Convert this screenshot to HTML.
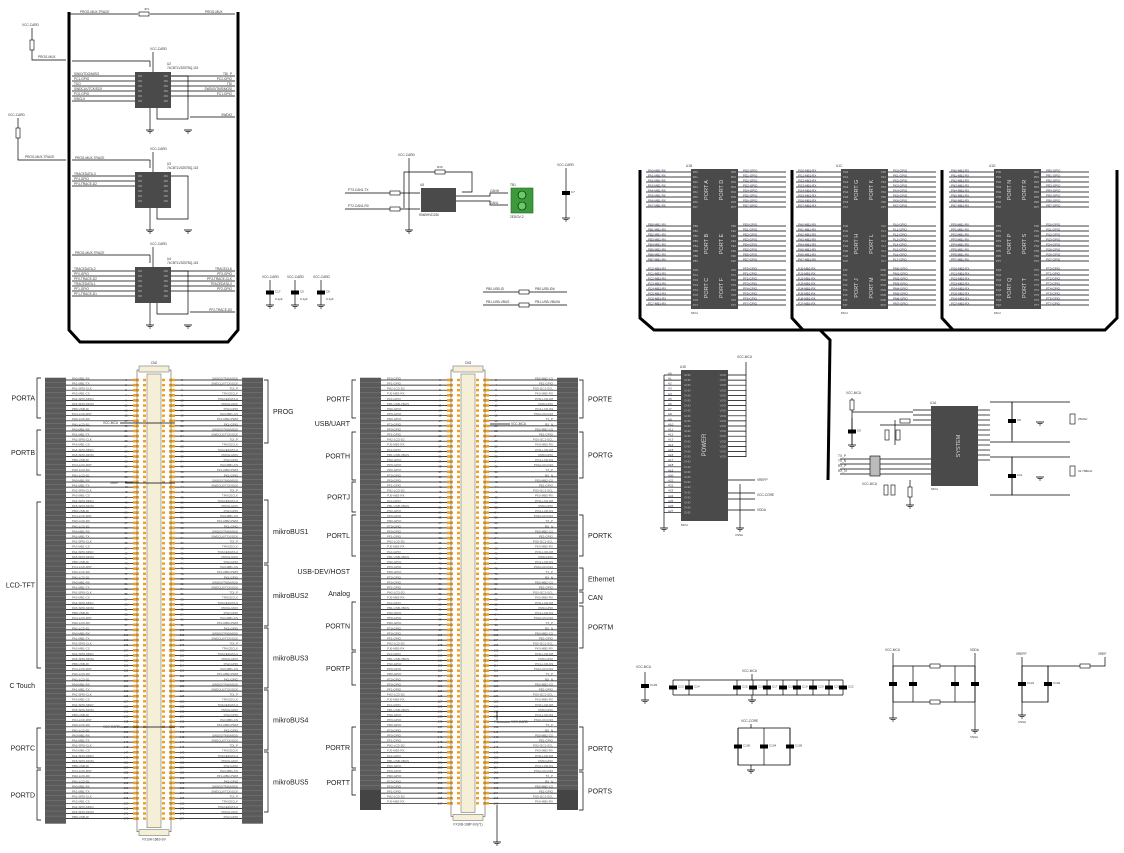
<!DOCTYPE html>
<html><head><meta charset="utf-8"><style>
html,body{margin:0;padding:0;background:#fff;width:1124px;height:853px;overflow:hidden}
svg{display:block}
text{font-family:"Liberation Sans",sans-serif}
</style></head><body>
<svg id="s" width="1124" height="853" viewBox="0 0 1124 853" xmlns="http://www.w3.org/2000/svg"></svg>
<script>
var s=document.getElementById('s'),h='';
function L(a,b,c,d,w,col){h+='<line x1="'+a+'" y1="'+b+'" x2="'+c+'" y2="'+d+'" stroke="'+(col||'#000')+'" stroke-width="'+(w||0.7)+'"/>';}
function P(pts,w){h+='<polyline points="'+pts+'" fill="none" stroke="#000" stroke-width="'+(w||0.7)+'"/>';}
function R(x,y,w,hh,f,st){h+='<rect x="'+x+'" y="'+y+'" width="'+w+'" height="'+hh+'" fill="'+f+'"'+(st?' stroke="'+st+'" stroke-width="0.6"':'')+'/>';}
function T(x,y,t,sz,an,col){h+='<text x="'+x+'" y="'+y+'" font-size="'+(sz||3.5)+'" fill="'+(col||'#333')+'" text-anchor="'+(an||'start')+'">'+t+'</text>';}
function TV(x,y,t,sz,col){h+='<text x="'+x+'" y="'+y+'" font-size="'+sz+'" fill="'+col+'" text-anchor="middle" transform="rotate(-90 '+x+' '+y+')">'+t+'</text>';}
function G(x,y){L(x-4,y,x+4,y,0.8);L(x-2.5,y+1.5,x+2.5,y+1.5,0.7);L(x-1,y+3,x+1,y+3,0.6);}
function CAP(x,y1,y2,lab){L(x,y1,x,y2);R(x-4,(y1+y2)/2-2,8,4,'#000');if(lab)T(x+5,(y1+y2)/2,lab,3);}
function RES(x,y,horiz){if(horiz)R(x-5,y-2,10,4,'#fff','#000');else R(x-2,y-5,4,10,'#fff','#000');}

// ===== Top-left frame =====
P('69,12 69,330 80,342 228,342 238,330 238,12',3);
L(69,14,138,14);L(150,14,235,14);RES(144,14,1);T(80,13,'PROG-MUX-TRACE',3.2);T(205,13,'PROG-MUX',3.2);T(144,10,'JP1',3);
L(32,28,32,40);RES(32,45);P('32,50 32,60 66,60');T(22,26,'VCC-CARD',3.2);T(38,58,'PROG-MUX',3.2);
L(18,118,18,128);RES(18,133);P('18,138 18,160 66,160');T(8,116,'VCC-CARD',3.2);T(25,158,'PROG-MUX-TRACE',3.2);
function ic(y,rowsL,rowsR,name){
 R(135,y,36,36,'#4a4a4a');
 L(153,y-20,153,y);T(150,y-22,'VCC-CARD',3.2);T(167,y-7,name,3.2);T(167,y-3,'74CBTLV3257BQ,115',3.2);
 for(var i=0;i<6;i++){var yy=y+4+i*5;if(rowsL[i]!==null){L(72,yy,135,yy);T(74,yy-1,rowsL[i],3.2);}
  if(rowsR[i]!==null){L(171,yy,235,yy);T(232,yy-1,rowsR[i],3.2,'end');}
  T(138,yy+1,'1B1',2.5,'start','#bbb');T(168,yy+1,'4B2',2.5,'end','#bbb');}
 P('157,'+(y+36)+' 157,'+(y+47)+' 188,'+(y+47)+' 188,'+(y+4)+' 171,'+(y+4));
 L(150,y+36,150,y+58);G(150,y+58);G(188,y+58);
}
L(72,61,150,61);L(150,61,150,67);
ic(72,['SWIO/TDO/MISO','PC1-GPIO','TDO','SWDCLK/TCK/SCK','PC0-GPIO','SWCLK'],['TDI_P','PC2-GPIO','TDI','SWDIO/TMS/MOSI','PC1-GPIO',null],'U2');
L(190,117,235,117);T(232,116,'SWDIO',3.2,'end');
L(72,160,150,160);L(150,160,150,168);T(75,159,'PROG-MUX-TRACE',3.2);
ic(172,['TRACEDATA-3','PF4-GPIO','PF4-TRACE-D2',null,null,null],[null,null,null,null,null,null],'U3');
L(72,255,150,255);L(150,255,150,263);T(75,254,'PROG-MUX-TRACE',3.2);
ic(267,['TRACEDATA-2','PF0-GPIO','PF0-TRACE-D2','TRACEDATA-1','PF1-GPIO','PF1-TRACE-D1'],['TRACECLK','PF3-GPIO','PF3-TRACE-CLK','TRACEDATA-0','PF2-GPIO',null],'U4');
L(190,312,235,312);T(232,311,'PF2-TRACE-D0',3.2,'end');
[[270,'C17'],[295,'C5'],[321,'C6']].forEach(function(c){T(c[0]-8,278,'VCC-CARD',3.2);CAP(c[0],280,305,c[1]);G(c[0],305);T(c[0]+5,300,'0.1µF',3);});
// CAN
T(398,156,'VCC-CARD',3.2);L(409,158,409,230);G(409,230);
P('404,208 404,172 472,172 472,192 462,192');RES(440,172,1);T(437,168,'R30',3);
L(345,193,390,193);RES(395,193,1);L(400,193,420,193);T(348,191,'PT3-CAN1-TX',3.2);
L(345,209,390,209);RES(395,209,1);L(400,209,420,209);T(348,207,'PT2-CAN1-RX',3.2);
R(421,188,35,24,'#4a4a4a');T(420,186,'U5',3.2);T(419,216,'SN65HVD230',3.2);
P('456,196 490,196 490,193 508,193');P('456,201 490,201 490,205 508,205');T(490,192,'CANH',3.2);T(490,204,'CANL',3.2);
R(511,188,22,25,'#3c9a3c','#226622');h+='<circle cx="522" cy="195" r="4" fill="#6c6" stroke="#000" stroke-width="0.6"/><circle cx="522" cy="206" r="4" fill="#6c6" stroke="#000" stroke-width="0.6"/>';
T(510,186,'TB1',3.2);T(510,218,'2EDGV-2',3.2);
T(557,166,'VCC-CARD',3.2);CAP(566,168,218,'C7');G(566,218);
L(483,292,567,292);RES(524,292,1);T(486,290,'PB0-USB-ID',3.2);T(535,290,'PB0-USB-ID#',3.2);
L(483,305,567,305);RES(524,305,1);T(486,303,'PB1-USB-VBUS',3.2);T(535,303,'PB1-USB-VBUS#',3.2);

// ===== Top-right MCU panel =====
P('640,170 640,318 654,330 1105,330 1117,318 1117,170',3);
P('792,170 792,318 803,330',3);P('942,170 942,318 953,330',3);
P('820,330 830,340 828,480',3);
function mcu(x,lab,ports){R(x,169,47,140,'#4a4a4a');T(x-5,167,lab,3.2);T(x,314,'MCU',3);
 var groups=[172,226,270];
 groups.forEach(function(g0,gi){for(var i=0;i<8;i++){var y=g0+i*5;L(x-45,y,x,y);L(x+47,y,x+95,y);
  T(x-43,y-0.6,'P'+ports[gi][0]+i+'-MB1-RX',3,'start','#335');T(x+52,y-0.6,'P'+ports[gi][1]+i+'-GPIO',3,'start','#335');
  T(x+2,y+1,'P'+ports[gi][0]+i,2.6,'start','#ccc');T(x+45,y+1,'P'+ports[gi][1]+i,2.6,'end','#ccc');}
  TV(x+17,g0+18,'PORT '+ports[gi][0],5.5,'#ddd');TV(x+32,g0+18,'PORT '+ports[gi][1],5.5,'#ddd');});
}
mcu(691,'U1B',[['A','D'],['B','E'],['C','F']]);mcu(841,'U1C',[['G','K'],['H','L'],['J','M']]);mcu(994,'U1D',[['N','R'],['P','S'],['Q','T']]);
// Power chip
R(681,370,47,151,'#4a4a4a');T(680,368,'U1E',3.2);T(681,526,'MCU',3);TV(706,445,'POWER',6,'#ddd');
for(var i=0;i<28;i++){var y=375+i*5.1;L(664,y,681,y);T(668,y-0.6,'A'+i,3,'start','#335');T(684,y+1,'GND',3,'start','#bbb');}
L(664,375,664,528);G(664,528);
for(var i=0;i<17;i++){var y=375+i*5.1;L(728,y,746,y);T(726,y+1,'VDD',3,'end','#bbb');}
L(746,362,746,457);T(737,358,'VCC-MCU',3.2);
L(728,480,755,480);T(757,481,'VREFP',3.2);L(728,493,755,493);L(728,499,755,499);T(757,496,'VCC-CORE',3.2);
L(728,510,755,510);T(757,511,'VDDA',3.2);L(740,484,740,528);G(740,528);T(735,536,'VSSA',3);
// system chip
R(931,406,47,80,'#4a4a4a');T(930,404,'U1A',3.2);T(931,490,'MCU',3);TV(960,446,'SYSTEM',5.5,'#ddd');
for(var i=0;i<4;i++){L(913,410+i*5,931,410+i*5);}
for(var i=0;i<4;i++){var y=459+i*5;L(840,y,931,y);}
T(838,457,'TX_P',3.2);T(838,462,'TX_N',3.2);T(838,467,'RX_P',3.2);T(838,472,'RX_N',3.2);
R(870,456,10,20,'#bbb','#000');
for(var i=0;i<11;i++){L(978,410+i*5,990,410+i*5);}
L(852,398,852,445);RES(852,405);CAP(852,418,445,'C9');G(852,445);T(846,394,'VCC-MCU',3.2);L(852,412,913,412);
L(880,425,913,425);RES(905,421,1);L(895,420,895,445);RES(887,435);RES(898,435);
L(910,480,910,505);RES(910,492);G(910,505);RES(886,490);RES(893,490);T(862,485,'VCC-MCU',3.2);
P('990,402 1012,402 1012,442 990,442');CAP(1012,402,440,'C8');P('1012,402 1070,402');P('1012,442 1070,442');
R(1070,414,5,10,'#fff','#000');T(1078,420,'25MHz',3);G(1040,422);
P('990,457 1012,457 1012,495 990,495');CAP(1012,457,495,'C11');P('1012,457 1070,457');P('1012,495 1070,495');
R(1070,466,5,10,'#fff','#000');T(1078,472,'32.768kHz',3);G(1040,477);

// ===== Bottom caps =====
T(636,668,'VCC-MCU',3.2);CAP(645,672,700,'C103');G(645,700);
P('673,680 843,680');P('673,695 843,695');
[673,689,737,753,767,783,797,813,829,843].forEach(function(x,i){CAP(x,680,695,'C'+(13+i));});
T(742,672,'VCC-MCU',3.2);L(752,674,752,680);L(752,695,752,700);G(752,700);
T(741,722,'VCC-CORE',3.2);P('738,728 790,728 790,765 738,765 738,728');L(751,724,751,728);L(751,765,751,770);G(751,770);
CAP(738,728,765,'C100');CAP(764,728,765,'C104');CAP(790,728,765,'C105');
T(885,651,'VCC-MCU',3.2);T(970,651,'VDDA',3.2);L(893,653,893,718);G(893,718);L(975,653,975,730);G(975,730);T(970,738,'VSSA',3);
L(893,666,975,666);L(893,702,975,702);RES(935,666,1);RES(935,702,1);
[893,913,955,975].forEach(function(x){CAP(x,666,702);});
T(1016,655,'VREFP',3.2);T(1098,655,'VREF',3.2);L(1022,657,1022,715);G(1022,715);T(1018,723,'VSSA',3);
P('1022,666 1105,666 1105,657');RES(1085,666,1);CAP(1022,666,702,'C101');CAP(1048,666,702,'C102');P('1022,702 1048,702 1048,666');

// ===== Connectors =====
function conn(gl,gr,px,y0,n,bl,name,labL,labR){
 R(gl,y0-2,21,n*5.1+2,'#5a5a5a');R(gr[0],y0-2,21,n*5.1+2,'#5a5a5a');
 for(var i=0;i<n;i++){var y=y0+i*5.1;
  L(gl,y-2.5,gl+21,y-2.5,0.4,'#888');L(gr[0],y-2.5,gr[0]+21,y-2.5,0.4,'#888');
  L(gl+21,y,px,y,0.7);L(px+42,y,gr[0],y,0.7);
  T(gl+27,y-0.6,labL[i%labL.length],3,'start','#555');T(gr[0]-4,y-0.6,labR[i%labR.length],3,'end','#555');
  R(px,y-1.3,6,2.6,'#f0a020');R(px+36,y-1.3,6,2.6,'#f0a020');
  R(px+10,y-1.2,3,2.4,'#f0a020');R(px+29,y-1.2,3,2.4,'#f0a020');
  T(px-7,y+1,''+(1+i*2),2.8,'middle','#333');T(px+49,y+1,''+(2+i*2),2.8,'middle','#333');
 }
 var yb=y0+n*5.1;
 R(px+4,y0-10,34,yb-y0+18,'none','#555');R(px+14,y0-6,14,yb-y0+10,'#f6efd8','#777');
 R(px+6,y0-14,30,6,'#f6efd8','#777');R(px+6,yb+6,30,6,'#f6efd8','#777');
 T(px+21,y0-16,bl,3.2,'middle');T(px+21,yb+17,name,3.2,'middle');
}
var LL=['PA0-MB1-RX','PA1-MB1-TX','PA2-SPI0-CLK','PA3-MB1-CS','PA4-SPI0-MISO','PA5-SPI0-MOSI','PB0-USB-ID','PC4-LCD-RST','PH0-LCD-D0','PH1-LCD-D1'];
var RL=['SWDIO/TMS/MOSI','SWDCLK/TCK/SCK','TDI_P','TRACECLK','TRACEDATA-0','PROG-MUX','PN2-GPIO','PA3-MB1-CS','PF1-MB2-PWM','PK1-GPIO'];
conn(45,[242],133,380,87,'CN2','FX10A-168S-SV',LL,RL);
conn(360,[557],447,380,84,'CN3','FX10B-168P-SV(71)',['PF0-GPIO','PF1-GPIO','PH2-LCD-D2','PJ0-MB3-RX','PL0-GPIO','PB1-USB-VBUS','PN0-GPIO','PP0-GPIO','PR0-GPIO','PT0-GPIO'],['PE0-MB2-CS','PE1-GPIO','PG0-I2C1-SCL','PK0-MB5-RX','PQ0-LCD-D8','PM0-GPIO','PQ1-LCD-D9','PS0-LCD-D16','TX_P','RX_N']);
R(360,790,21,20,'#444');R(557,790,21,20,'#444');
L(497,805,497,842);G(497,842);L(497,711,497,720);L(497,722,510,722);T(511,723,'VCC-CARD',3.2);
L(175,423,120,423);T(103,424,'VCC-MCU',3.2);L(175,483,125,483);T(110,484,'VREF',3.2);L(175,727,120,727);T(103,728,'VCC-CARD',3.2);
L(490,424,510,424);T(511,425,'VCC-MCU',3.2);
function brL(x,y1,y2,lab,lx){P((x+4)+','+y1+' '+x+','+y1+' '+x+','+y2+' '+(x+4)+','+y2);T(lx,(y1+y2)/2+2.5,lab,7,'end','#222');}
function brR(x,y1,y2,lab){P((x-4)+','+y1+' '+x+','+y1+' '+x+','+y2+' '+(x-4)+','+y2);T(x+5,(y1+y2)/2+2.5,lab,7,'start','#222');}
brL(37,378,418,'PORTA',35);brL(37,430,475,'PORTB',35);brL(37,502,668,'LCD-TFT',35);
T(35,688,'C Touch',7,'end','#222');brL(37,728,768,'PORTC',35);brL(37,770,820,'PORTD',35);
brR(268,380,443,'PROG');brR(268,500,563,'mikroBUS1');brR(268,565,626,'mikroBUS2');brR(268,628,688,'mikroBUS3');brR(268,690,750,'mikroBUS4');brR(268,752,812,'mikroBUS5');
brL(352,380,418,'PORTF',350);T(350,426,'USB/UART',7,'end','#222');brL(352,432,480,'PORTH',350);brL(352,482,512,'PORTJ',350);brL(352,515,556,'PORTL',350);
T(350,574,'USB-DEV/HOST',7,'end','#222');T(350,596,'Analog',7,'end','#222');brL(352,602,650,'PORTN',350);brL(352,652,685,'PORTP',350);
brL(352,727,768,'PORTR',350);brL(352,770,795,'PORTT',350);
brR(583,380,418,'PORTE');brR(583,432,478,'PORTG');brR(583,515,556,'PORTK');brR(583,568,590,'Ethernet');brR(583,592,603,'CAN');brR(583,606,648,'PORTM');brR(583,727,770,'PORTQ');brR(583,772,810,'PORTS');
s.innerHTML=h;
</script>
</body></html>
